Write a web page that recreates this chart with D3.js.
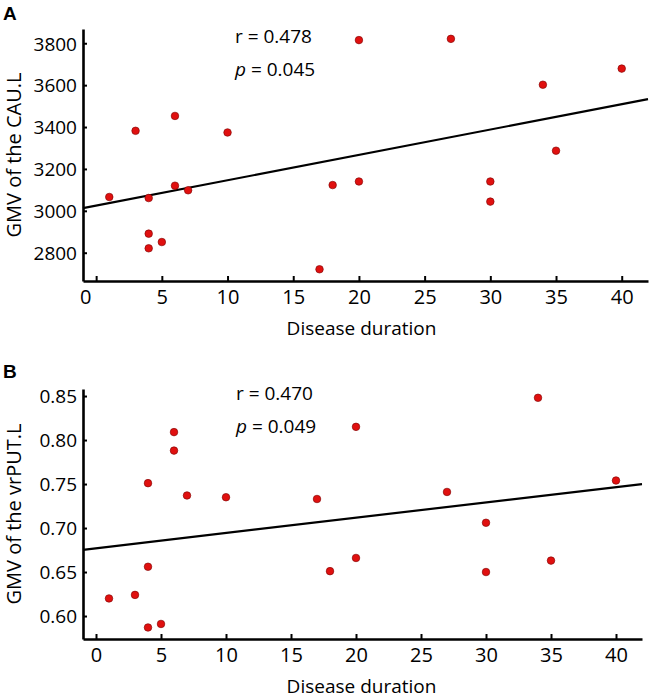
<!DOCTYPE html>
<html>
<head>
<meta charset="utf-8">
<script src="https://cdn.jsdelivr.net/npm/d3@7"></script>
<style>
  html, body { margin: 0; padding: 0; background: #fff; }
  svg { display: block; font-family: "Open Sans", "Noto Sans", sans-serif; }
</style>
</head>
<body>
<svg id="chart" width="652" height="699"></svg>
<script>
// ---------- data ----------
const durationA = [1, 3, 6, 10, 6, 7, 4, 4, 4, 5, 17, 18, 20, 20, 27, 34, 40, 35, 30, 30];
const gmvCAU    = [3066, 3382, 3453, 3374, 3120, 3098, 3061, 2891, 2821, 2851, 2721, 3123, 3815, 3140, 3821, 3602, 3679, 3287, 3140, 3044];
const durationB = [1, 3, 4, 4, 5, 4, 6, 6, 7, 10, 17, 18, 20, 20, 27, 34, 40, 30, 30, 35];
const gmvPUT    = [0.620, 0.624, 0.656, 0.587, 0.591, 0.751, 0.809, 0.788, 0.737, 0.735, 0.733, 0.651, 0.815, 0.666, 0.741, 0.848, 0.754, 0.706, 0.650, 0.663];
const fitA = [3025, 12.1];     // intercept, slope
const fitB = [0.677, 0.001737];
const xTicks = [0, 5, 10, 15, 20, 25, 30, 35, 40];
const yTicksA = [2800, 3000, 3200, 3400, 3600, 3800];
const yTicksB = [0.60, 0.65, 0.70, 0.75, 0.80, 0.85];
const statsA = ["0.478", "0.045"];
const statsB = ["0.470", "0.049"];

const svg = d3.select("#chart");
const FONT = "'Open Sans', 'Noto Sans', sans-serif";

function panel(cfg) {
  const g = svg.append("g");
  const x = d3.scaleLinear().domain([-1, 42]).range([cfg.left, cfg.right]);
  const y = d3.scaleLinear().domain(cfg.yDomain).range([cfg.bottom, cfg.top]);

  // x axis
  const xa = g.append("g").attr("transform", `translate(0,${cfg.bottom})`)
    .call(d3.axisBottom(x).tickValues(xTicks).tickSize(-5).tickPadding(0).tickSizeOuter(0));
  xa.select(".domain").attr("stroke", "#000").attr("stroke-width", 2.6);
  xa.selectAll(".tick line").attr("stroke", "#000").attr("stroke-width", 2);
  xa.selectAll(".tick text").attr("y", 23).attr("dy", 0)
    .attr("font-size", 20).attr("fill", "#000").attr("font-weight", 500)
    .attr("font-family", FONT)
    .attr("dx", d => (cfg.shiftZero && d === 0) ? -11 : 0);

  // y axis
  const ya = g.append("g").attr("transform", `translate(${cfg.left},0)`)
    .call(d3.axisLeft(y).tickValues(cfg.yTicks).tickSize(-4).tickPadding(6).tickSizeOuter(0).tickFormat(cfg.fmt));
  ya.select(".domain").attr("stroke", "#000").attr("stroke-width", 2.6);
  ya.selectAll(".tick line").attr("stroke", "#000").attr("stroke-width", 2);
  ya.selectAll(".tick text").attr("font-size", 19).attr("fill", "#000").attr("font-weight", 500)
    .attr("font-family", FONT).attr("dy", "0.36em");

  // regression line
  const xs = x.domain();
  g.append("line")
    .attr("x1", x(xs[0])).attr("y1", y(cfg.fit[0] + cfg.fit[1] * xs[0]))
    .attr("x2", x(xs[1])).attr("y2", y(cfg.fit[0] + cfg.fit[1] * xs[1]))
    .attr("stroke", "#000").attr("stroke-width", 2.2);

  // points
  g.selectAll("circle").data(cfg.xv.map((d, i) => [d, cfg.yv[i]])).enter()
    .append("circle")
    .attr("cx", d => x(d[0])).attr("cy", d => y(d[1])).attr("r", 3.8)
    .attr("fill", "#e0100f").attr("stroke", "#7a0000").attr("stroke-width", 0.6);

  // stats text
  g.append("text").attr("x", cfg.statX).attr("y", cfg.rY)
    .attr("font-size", 19).attr("fill", "#000").attr("font-weight", 500)
    .text(`r = ${cfg.stats[0]}`);
  const pt = g.append("text").attr("x", cfg.statX).attr("y", cfg.rY + 32.5)
    .attr("font-size", 19).attr("fill", "#000").attr("font-weight", 500);
  pt.append("tspan").attr("font-style", "italic").text("p");
  pt.append("tspan").text(` = ${cfg.stats[1]}`);

  // axis titles
  g.append("text").attr("x", 361.5).attr("y", cfg.bottom + 54)
    .attr("text-anchor", "middle").attr("font-size", 19).attr("fill", "#000").attr("font-weight", 500)
    .text("Disease duration");
  g.append("text")
    .attr("transform", `translate(21,${(cfg.top + cfg.bottom) / 2}) rotate(-90)`)
    .attr("text-anchor", "middle").attr("font-size", 20).attr("fill", "#000").attr("font-weight", 500)
    .text(cfg.yTitle);

  // panel letter
  g.append("text").attr("x", 3).attr("y", cfg.letterY)
    .attr("font-size", 19).attr("font-weight", "bold")
    .attr("font-family", "'Liberation Sans', Arial, sans-serif").attr("fill", "#000")
    .text(cfg.letter);
}

panel({
  left: 83, right: 648, top: 29, bottom: 281,
  yDomain: [2665, 3868], yTicks: yTicksA, fmt: d3.format("d"),
  xv: durationA, yv: gmvCAU, fit: fitA, stats: statsA,
  statX: 235, rY: 43, yTitle: "GMV of the CAU.L", letter: "A", letterY: 20, shiftZero: true
});

panel({
  left: 83, right: 642, top: 389, bottom: 639,
  yDomain: [0.5739, 0.858], yTicks: yTicksB, fmt: d3.format(".2f"),
  xv: durationB, yv: gmvPUT, fit: fitB, stats: statsB,
  statX: 236, rY: 400, yTitle: "GMV of the vrPUT.L", letter: "B", letterY: 378, shiftZero: false
});
</script>
</body>
</html>
